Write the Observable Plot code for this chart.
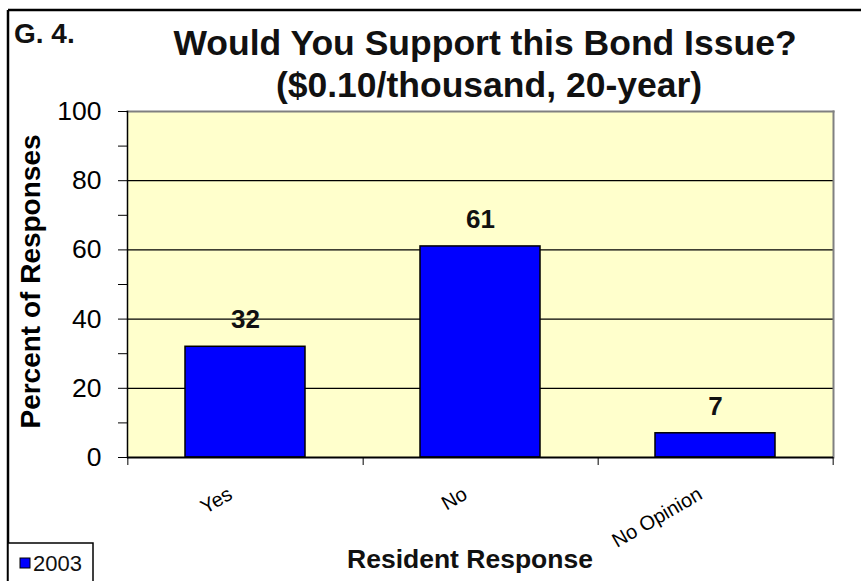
<!DOCTYPE html>
<html>
<head>
<meta charset="utf-8">
<script src="https://cdn.jsdelivr.net/npm/d3@7"></script>
<script src="https://cdn.jsdelivr.net/npm/@observablehq/plot@0.6"></script>
<style>
  html, body { margin: 0; padding: 0; background: #ffffff; }
  #chart svg { display: block; }
</style>
</head>
<body>
<div id="chart"></div>
<script>
// ---- data ----
const categories = ["Yes", "No", "No Opinion"];
const values = [32, 61, 7];
const seriesName = "2003";
const majorTicks = [0, 20, 40, 60, 80, 100];
const minorTicks = [10, 30, 50, 70, 90];
const figureLabel = "G. 4.";
const titleLines = ["Would You Support this Bond Issue?", "($0.10/thousand, 20-year)"];
const xTitle = "Resident Response";
const yTitle = "Percent of Responses";

const data = categories.map((c, i) => ({category: c, value: values[i]}));

const W = 861, H = 581;
const mL = 127, mR = 28, mT = 111, mB = 124;
const step = (W - mL - mR) / categories.length;
const font = "Liberation Sans, Arial, Helvetica, sans-serif";

const chart = Plot.plot({
  width: W,
  height: H,
  marginLeft: mL,
  marginRight: mR,
  marginTop: mT,
  marginBottom: mB,
  style: {fontFamily: font, background: "#ffffff", color: "#000000"},
  x: {domain: categories, paddingInner: 0.49, paddingOuter: 0.245, axis: null},
  y: {domain: [0, 100], axis: null},
  marks: [
    Plot.frame({fill: "#FFFFCC", stroke: "none"}),
    Plot.ruleY(majorTicks.filter(d => d > 0 && d < 100), {stroke: "#000000", strokeWidth: 1.3}),
    Plot.frame({anchor: "top", stroke: "#808080", strokeWidth: 2}),
    Plot.frame({anchor: "right", stroke: "#808080", strokeWidth: 2}),
    Plot.barY(data, {x: "category", y: "value", fill: "#0000FF", stroke: "#000000", strokeWidth: 1.5}),
    Plot.text(data, {x: "category", y: "value", text: d => String(d.value), dy: -27, fontSize: 26, fontWeight: "bold", fill: "#111111"}),
    Plot.frame({anchor: "left", stroke: "#000000", strokeWidth: 1.5}),
    Plot.ruleY([0], {stroke: "#000000", strokeWidth: 2.2}),
    Plot.axisY({ticks: majorTicks, tickSize: 9, tickPadding: 17, fontSize: 26.5, label: null, tickFormat: d => String(d)}),
    Plot.axisY({ticks: minorTicks, tickSize: 9, tickFormat: () => "", label: null}),
    Plot.axisX({ticks: categories, tickSize: 8, tickFormat: () => "", dx: step / 2, label: null}),
    Plot.axisX({ticks: categories.slice(0, 1), tickSize: 8, tickFormat: () => "", dx: -step / 2, label: null}),
    Plot.text(categories, {x: d => d, y: d => 0, text: d => d, rotate: -30, textAnchor: "end", lineAnchor: "middle", dx: -15, dy: 35, fontSize: 20, fill: "#000000"}),
    Plot.text([yTitle], {frameAnchor: "left", rotate: -90, dx: -96, dy: -3, text: d => d, fontSize: 28, fontWeight: "bold", textAnchor: "middle", lineAnchor: "middle", fill: "#000000"})
  ]
});

document.getElementById("chart").appendChild(chart);

const svg = d3.select(chart);
// outer border (top and left)
svg.append("line").attr("x1", 8).attr("x2", W).attr("y1", 10).attr("y2", 10).attr("stroke", "#000").attr("stroke-width", 2.5);
svg.append("line").attr("x1", 8).attr("x2", 8).attr("y1", 10).attr("y2", H).attr("stroke", "#000").attr("stroke-width", 2.5);

function addText(x, y, str, size, weight, anchor) {
  return svg.append("text")
    .attr("x", x).attr("y", y)
    .attr("text-anchor", anchor)
    .attr("font-size", size)
    .attr("font-weight", weight)
    .attr("font-family", font)
    .attr("fill", "#111")
    .text(str);
}

// figure label and title
addText(14, 43, figureLabel, 28, "bold", "start");
addText(485, 55, titleLines[0], 35.5, "bold", "middle");
addText(489, 97, titleLines[1], 35.5, "bold", "middle");

// x-axis title
addText(470, 568, xTitle, 26.5, "bold", "middle");

// legend
svg.append("rect").attr("x", 8).attr("y", 543).attr("width", 85).attr("height", 40).attr("fill", "#fff").attr("stroke", "#000").attr("stroke-width", 1.5);
svg.append("rect").attr("x", 20).attr("y", 558).attr("width", 10).attr("height", 10).attr("fill", "#0000FF").attr("stroke", "#000").attr("stroke-width", 1);
addText(33, 571, seriesName, 22, "normal", "start");
</script>
</body>
</html>
